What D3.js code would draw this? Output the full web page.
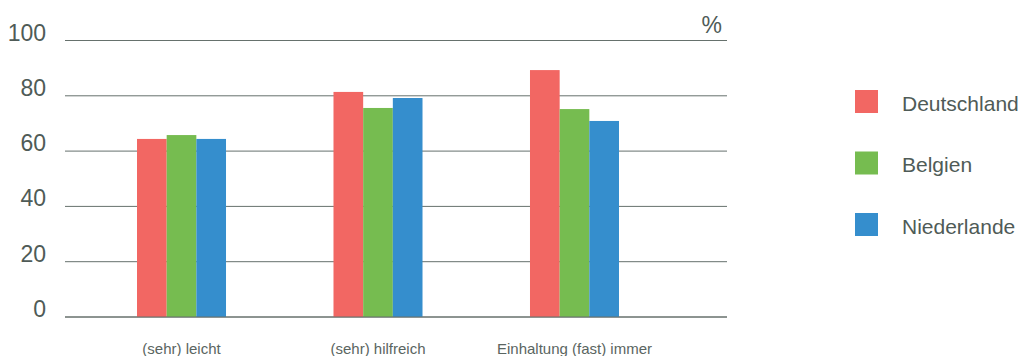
<!DOCTYPE html>
<html>
<head>
<meta charset="utf-8">
<script src="https://cdn.jsdelivr.net/npm/d3@7"></script>
<style>
  html, body { margin: 0; padding: 0; background: #fff; }
  svg { display: block; font-family: "Liberation Sans", Arial, sans-serif; }
</style>
</head>
<body>
<svg id="chart" width="1027" height="356"></svg>
<script>
// Categories, series and values
const categories = ["(sehr) leicht", "(sehr) hilfreich", "Einhaltung (fast) immer"];
const seriesNames = ["Deutschland", "Belgien", "Niederlande"];
const deutschland = [64.4, 81.4, 89.3];
const belgien = [65.8, 75.6, 75.2];
const niederlande = [64.4, 79.2, 70.9];
const yTicks = [0, 20, 40, 60, 80, 100];
const colors = ["#f26763", "#76bc50", "#358ecd"];

const seriesValues = [deutschland, belgien, niederlande];

const svg = d3.select("#chart");

const y = d3.scaleLinear().domain([0, 100]).range([317, 40.5]);
const x0 = d3.scaleBand().domain(categories).range([137, 619]).paddingInner(0.547).paddingOuter(0);
const x1 = d3.scaleBand().domain(seriesNames).range([0, x0.bandwidth()]).padding(0);
const color = d3.scaleOrdinal().domain(seriesNames).range(colors);

const gridLeft = 65, gridRight = 727;

// Horizontal gridlines
svg.append("g")
  .selectAll("line")
  .data(yTicks)
  .join("line")
  .attr("x1", gridLeft)
  .attr("x2", gridRight)
  .attr("y1", d => y(d))
  .attr("y2", d => y(d))
  .attr("stroke", "#66716d")
  .attr("stroke-width", 1);

// Y tick labels
svg.append("g")
  .selectAll("text")
  .data(yTicks)
  .join("text")
  .attr("x", 46)
  .attr("y", d => y(d))
  .attr("text-anchor", "end")
  .attr("font-size", 23)
  .attr("fill", "#4f5b57")
  .text(d => d);

// Unit label
svg.append("text")
  .attr("x", 722)
  .attr("y", 33)
  .attr("text-anchor", "end")
  .attr("font-size", 23)
  .attr("fill", "#4f5b57")
  .text("%");

// Bars
const groups = svg.append("g")
  .selectAll("g")
  .data(categories)
  .join("g")
  .attr("transform", d => `translate(${x0(d)},0)`);

groups.selectAll("rect")
  .data((c, i) => seriesNames.map((s, j) => ({ series: s, value: seriesValues[j][i] })))
  .join("rect")
  .attr("x", d => x1(d.series))
  .attr("width", x1.bandwidth())
  .attr("y", d => y(d.value))
  .attr("height", d => y(0) - y(d.value))
  .attr("fill", d => color(d.series));

// Redraw baseline over bars
svg.append("line")
  .attr("x1", gridLeft).attr("x2", gridRight)
  .attr("y1", y(0)).attr("y2", y(0))
  .attr("stroke", "#66716d").attr("stroke-width", 1);

// Category labels
svg.append("g")
  .selectAll("text")
  .data(categories)
  .join("text")
  .attr("x", d => x0(d) + x0.bandwidth() / 2)
  .attr("y", 354)
  .attr("text-anchor", "middle")
  .attr("font-size", 15)
  .attr("fill", "#5a6561")
  .text(d => d);

// Legend
const legend = svg.append("g")
  .selectAll("g")
  .data(seriesNames)
  .join("g")
  .attr("transform", (d, i) => `translate(855,${90 + i * 61.5})`);

legend.append("rect")
  .attr("width", 23)
  .attr("height", 23)
  .attr("fill", d => color(d));

legend.append("text")
  .attr("x", 47)
  .attr("y", 20.5)
  .attr("font-size", 21)
  .attr("fill", "#4f5b57")
  .text(d => d);
</script>
</body>
</html>
